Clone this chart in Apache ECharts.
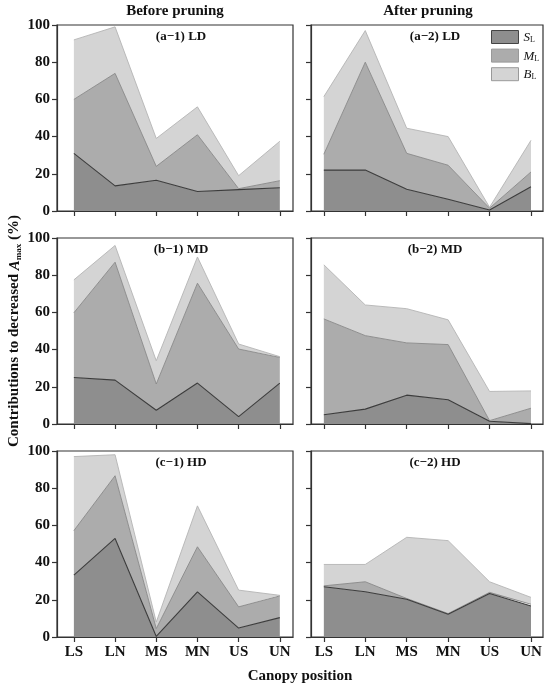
<!DOCTYPE html>
<html>
<head>
<meta charset="utf-8">
<script src="https://cdn.jsdelivr.net/npm/echarts@6/dist/echarts.min.js"></script>
<style>
  html, body { margin: 0; padding: 0; background: #fff; }
  #chart { width: 550px; height: 689px; }
</style>
</head>
<body>
<div id="chart"></div>
<script>
// canopy positions
const cats = ['LS', 'LN', 'MS', 'MN', 'US', 'UN'];
const yTicks = [0, 20, 40, 60, 80, 100];

// (a-1) LD before pruning
const a1_S = [31, 13.5, 16.5, 10.5, 11.5, 12.5];
const a1_M = [29, 60.5, 7.5, 30.5, 0.5, 3.8];
const a1_B = [32, 25, 15, 15, 7, 21.2];
// (a-2) LD after pruning
const a2_S = [22, 22, 11.7, 6.3, 0.5, 13];
const a2_M = [8.5, 58, 19.3, 18.3, 1, 8];
const a2_B = [31, 17, 13.5, 15.4, 0.5, 17];
// (b-1) MD before pruning
const b1_S = [25, 23.6, 7.4, 22, 4, 22];
const b1_M = [34.8, 63.4, 14.1, 53.7, 36.3, 13.8];
const b1_B = [17.7, 9, 12.5, 14.1, 2.7, 0.4];
// (b-2) MD after pruning
const b2_S = [5, 8, 15.5, 13, 1.5, 0.2];
const b2_M = [51.5, 39.5, 28.1, 29.7, 0.3, 8.3];
const b2_B = [29.1, 16.5, 18.4, 13.3, 15.7, 9.3];
// (c-1) HD before pruning
const c1_S = [33.3, 53, 0.3, 24.3, 4.8, 10.4];
const c1_M = [23.9, 33.7, 4.2, 24.2, 11.4, 11.7];
const c1_B = [39.8, 11.3, 3.5, 22, 9, 0.3];
// (c-2) HD after pruning
const c2_S = [27, 24.3, 20.3, 12.2, 23.4, 16.7];
const c2_M = [0.5, 5.4, 0.4, 0.4, 0.6, 0.9];
const c2_B = [11.5, 9.3, 32.9, 39.2, 5.7, 3.7];

const panels = [
  { label: '(a\u22121) LD', row: 0, col: 0, S: a1_S, M: a1_M, B: a1_B },
  { label: '(a\u22122) LD', row: 0, col: 1, S: a2_S, M: a2_M, B: a2_B },
  { label: '(b\u22121) MD', row: 1, col: 0, S: b1_S, M: b1_M, B: b1_B },
  { label: '(b\u22122) MD', row: 1, col: 1, S: b2_S, M: b2_M, B: b2_B },
  { label: '(c\u22121) HD', row: 2, col: 0, S: c1_S, M: c1_M, B: c1_B },
  { label: '(c\u22122) HD', row: 2, col: 1, S: c2_S, M: c2_M, B: c2_B }
];

const FONT = "'Liberation Serif', 'DejaVu Serif', serif";
const colLeft = [57, 311];
const colWidth = [236, 232];
const colRange = [[-0.41, 5.32], [-0.31, 5.29]];
const rowTop = [25, 238, 451];
const plotH = 186;

// S, M, B layers: fill and edge colours
const layers = [
  { key: 'S', name: 'S_L', fill: '#8e8e8e', edge: '#3c3c3c', width: 1.1 },
  { key: 'M', name: 'M_L', fill: '#acacac', edge: '#888888', width: 0.9 },
  { key: 'B', name: 'B_L', fill: '#d4d4d4', edge: '#b4b4b4', width: 0.9 }
];

const grid = [], xAxis = [], yAxis = [], series = [], graphic = [];

panels.forEach((p, idx) => {
  grid.push({
    left: colLeft[p.col], top: rowTop[p.row], width: colWidth[p.col], height: plotH,
    show: true, borderColor: '#333', borderWidth: 1.2, backgroundColor: 'transparent'
  });
  xAxis.push({
    type: 'value', gridIndex: idx,
    min: colRange[p.col][0], max: colRange[p.col][1],
    axisLine: { show: true, onZero: false, lineStyle: { color: '#333', width: 1.2 } },
    axisTick: { show: true, customValues: [0, 1, 2, 3, 4, 5], length: 5, lineStyle: { color: '#333', width: 1.2 } },
    axisLabel: {
      show: p.row === 2, customValues: [0, 1, 2, 3, 4, 5],
      formatter: v => cats[Math.round(v)], margin: 8,
      fontFamily: FONT, fontWeight: 'bold', fontSize: 15, color: '#111'
    },
    splitLine: { show: false }
  });
  yAxis.push({
    type: 'value', gridIndex: idx, min: 0, max: 100, interval: 20,
    axisLine: { show: true, onZero: false, lineStyle: { color: '#333', width: 1.2 } },
    axisTick: { show: true, length: 5, lineStyle: { color: '#333', width: 1.2 } },
    axisLabel: {
      show: p.col === 0, margin: 7,
      fontFamily: FONT, fontWeight: 'bold', fontSize: 15, color: '#111'
    },
    splitLine: { show: false }
  });
  layers.forEach((l, li) => {
    series.push({
      type: 'line', name: l.name, xAxisIndex: idx, yAxisIndex: idx,
      stack: 'panel' + idx, symbol: 'none', silent: true, z: 3 - li,
      // value first so that it is the stacked dimension
      data: p[l.key].map((v, i) => [v, i]),
      encode: { x: 1, y: 0 },
      itemStyle: { color: l.fill },
      lineStyle: { color: l.edge, width: l.width },
      areaStyle: { color: l.fill, opacity: 1 }
    });
  });
  graphic.push({
    type: 'text', x: colLeft[p.col] + 124, y: rowTop[p.row] + 12,
    style: {
      text: p.label, align: 'center', verticalAlign: 'middle',
      font: "bold 13px " + FONT, fill: '#111'
    }
  });
});

graphic.push(
  { type: 'text', x: 175, y: 11, style: { text: 'Before pruning', align: 'center', verticalAlign: 'middle', font: 'bold 15px ' + FONT, fill: '#111' } },
  { type: 'text', x: 428, y: 11, style: { text: 'After pruning', align: 'center', verticalAlign: 'middle', font: 'bold 15px ' + FONT, fill: '#111' } },
  { type: 'text', x: 300, y: 676, style: { text: 'Canopy position', align: 'center', verticalAlign: 'middle', font: 'bold 15px ' + FONT, fill: '#111' } },
  {
    type: 'text', x: 14, y: 331, rotation: Math.PI / 2,
    style: {
      text: 'Contributions to decreased {it|A}{sub|max} (%)',
      align: 'center', verticalAlign: 'middle',
      font: 'bold 15px ' + FONT, fill: '#111',
      rich: {
        it: { fontStyle: 'italic', fontWeight: 'bold', fontSize: 15, fontFamily: FONT, lineHeight: 18, verticalAlign: 'bottom' },
        sub: { fontWeight: 'bold', fontSize: 9, fontFamily: FONT, lineHeight: 9, verticalAlign: 'bottom' }
      }
    }
  }
);

const legendRich = {
  it: { fontStyle: 'italic', fontSize: 13, fontFamily: FONT, color: '#111', lineHeight: 14, verticalAlign: 'bottom' },
  sub: { fontSize: 8, fontFamily: FONT, color: '#111', lineHeight: 8, verticalAlign: 'bottom' }
};

const chart = echarts.init(document.getElementById('chart'), null, { renderer: 'canvas' });
chart.setOption({
  backgroundColor: '#fff',
  animation: false,
  grid, xAxis, yAxis, series, graphic,
  legend: {
    orient: 'vertical', left: 491, top: 30, itemWidth: 27, itemHeight: 13, itemGap: 4.6,
    selectedMode: false, icon: 'rect', padding: 0,
    data: layers.map(l => ({
      name: l.name,
      itemStyle: { color: l.fill, borderColor: l.key === 'S' ? '#444' : '#999', borderWidth: 1 }
    })),
    formatter: n => '{it|' + n.charAt(0) + '}{sub|L}',
    textStyle: { rich: legendRich }
  }
});
</script>
</body>
</html>
